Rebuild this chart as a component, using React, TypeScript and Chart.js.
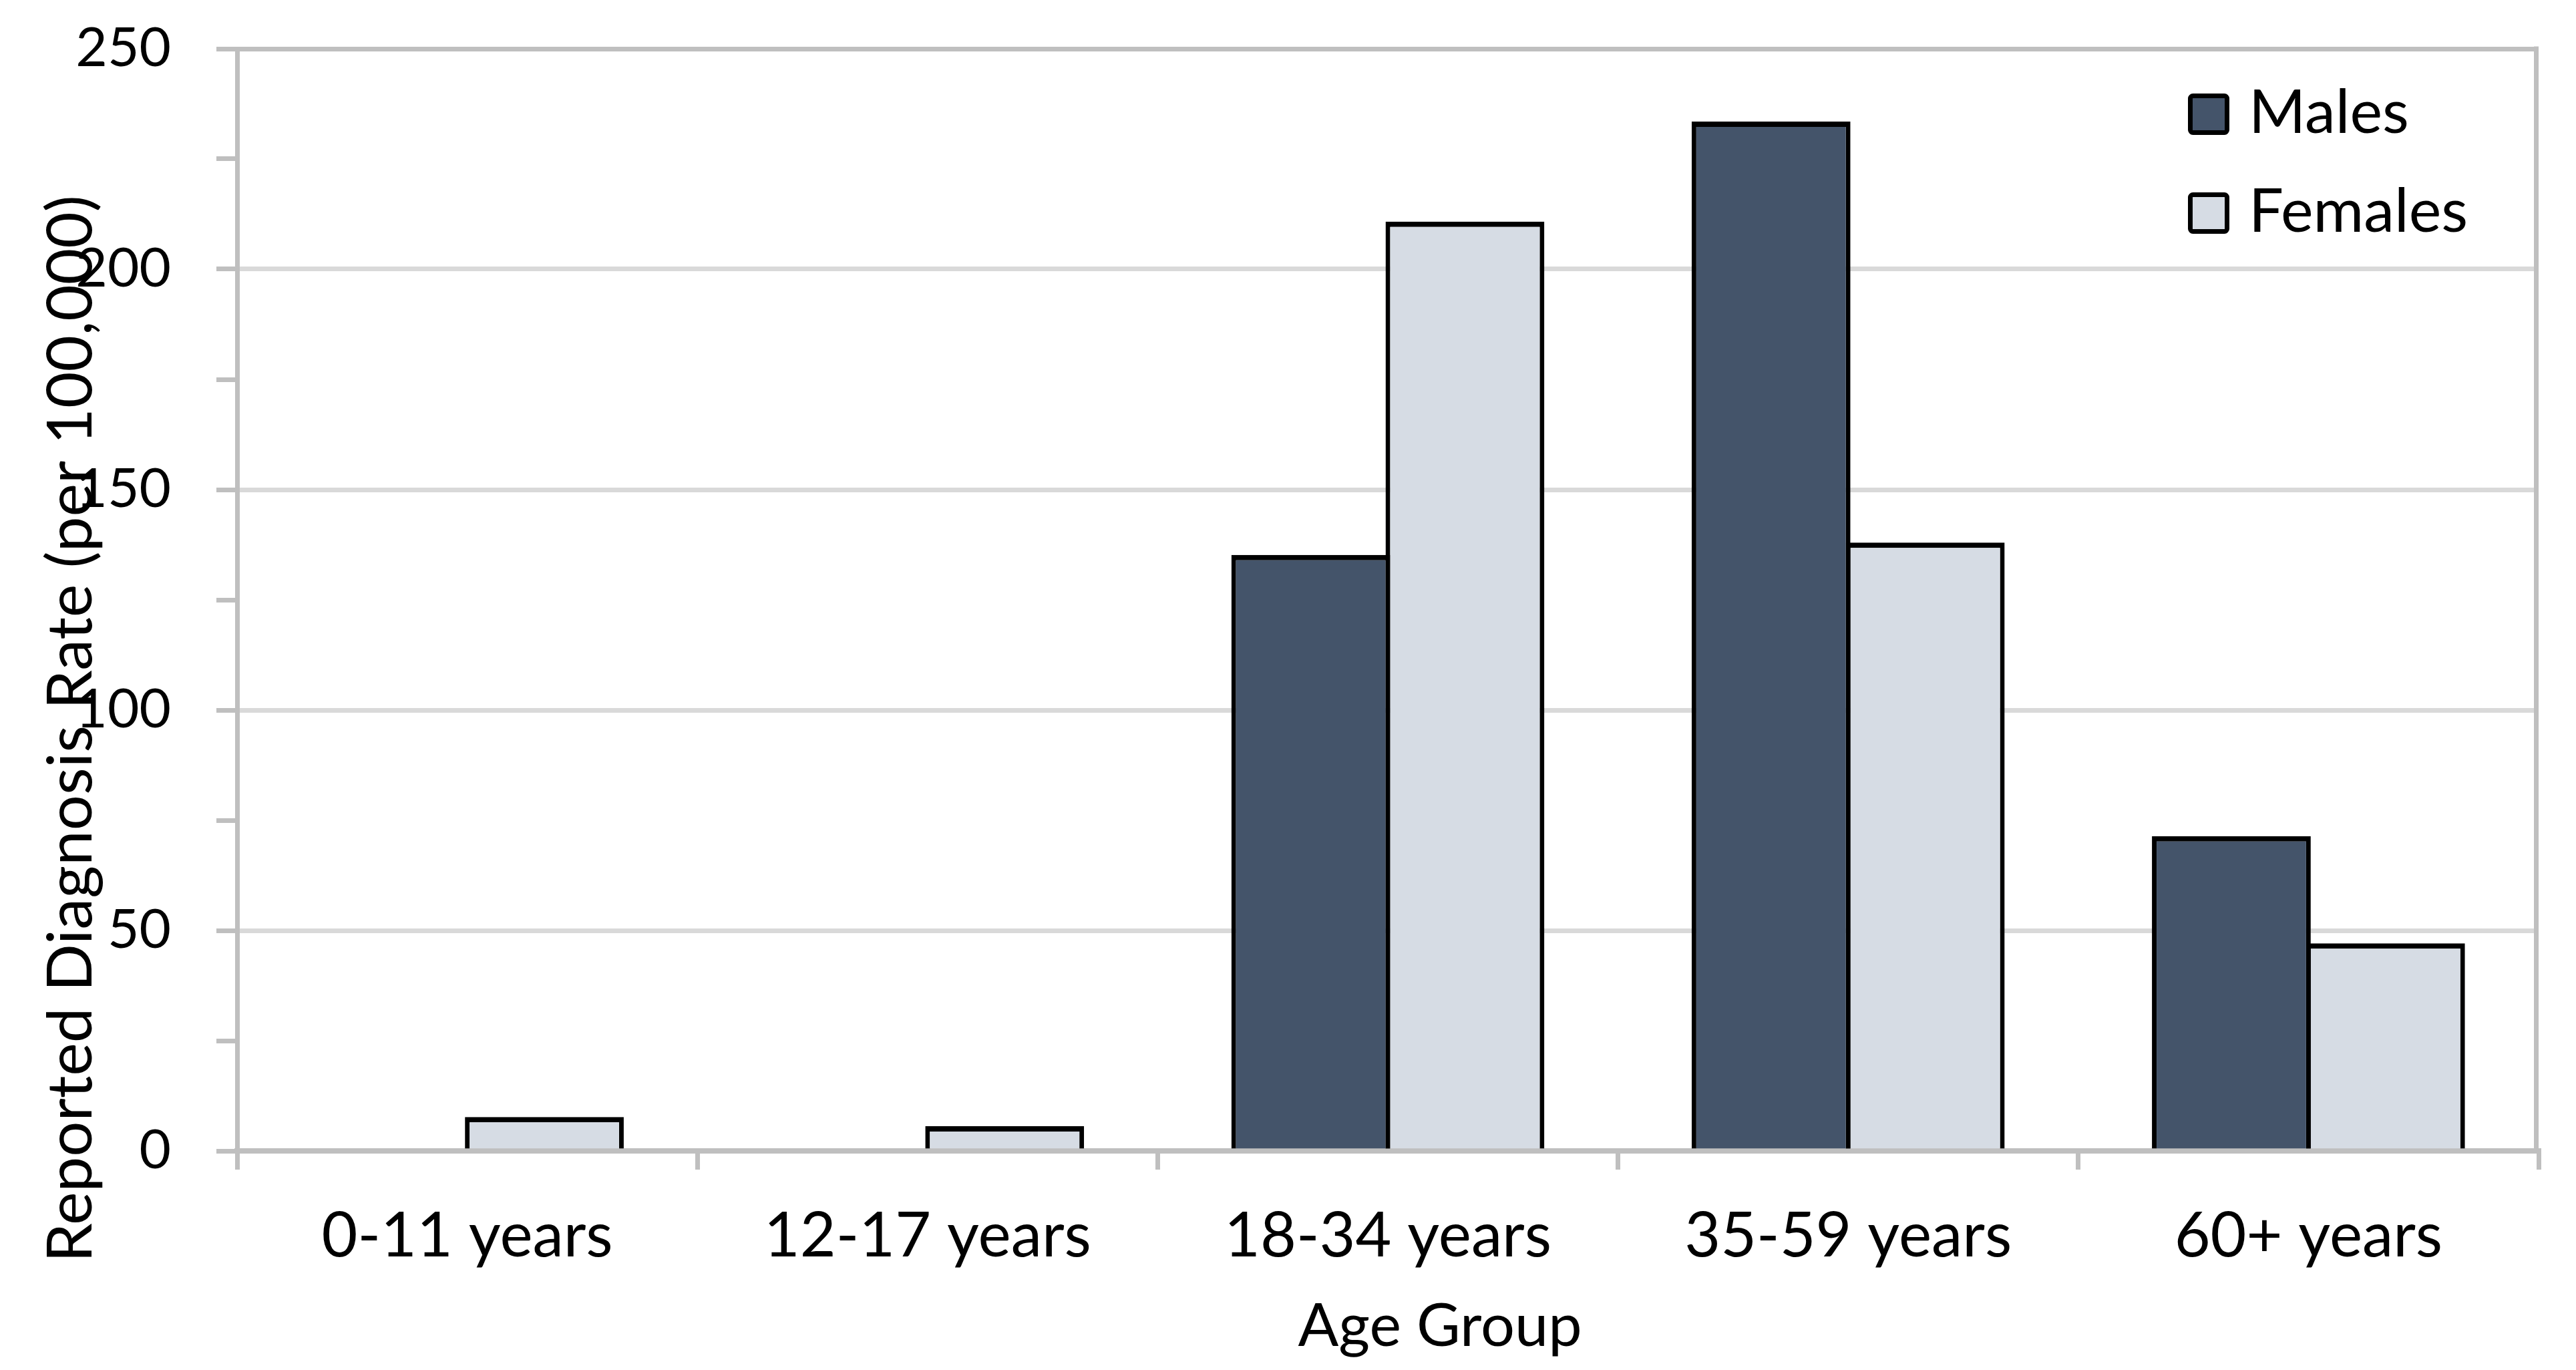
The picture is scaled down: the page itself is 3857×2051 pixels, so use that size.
import React, { useEffect, useRef } from 'react';
import { Chart, registerables } from 'chart.js';

Chart.register(...registerables);

const categories = ['0-11 years', '12-17 years', '18-34 years', '35-59 years', '60+ years'];
const seriesLabels = ['Males', 'Females'];
const malesValues = [0, 0, 135.2, 233.5, 71.4];
const femalesValues = [7.7, 5.6, 210.8, 138.0, 47.1];
const yTickValues = [0, 50, 100, 150, 200, 250];
const yTitle = 'Reported Diagnosis Rate (per 100,000)';
const xTitle = 'Age Group';

const W = 3857;
const H = 2051;
const FONT = 'Lato';

const overlayPlugin = {
  id: 'overlay',
  afterDraw(chart: any) {
    const { ctx, chartArea } = chart;
    ctx.save();
    // right border of plot area
    ctx.strokeStyle = '#bfbfbf';
    ctx.lineWidth = 7;
    ctx.beginPath();
    ctx.moveTo(chartArea.right - 3.5, chartArea.top - 3.5);
    ctx.lineTo(chartArea.right - 3.5, chartArea.bottom);
    ctx.stroke();

    // legend
    const boxLeft = chartArea.right - 525;
    const top0 = chartArea.top + 67;
    chart.data.datasets.forEach((ds: any, i: number) => {
      const y = top0 + i * 148;
      ctx.fillStyle = ds.backgroundColor;
      ctx.strokeStyle = '#000';
      ctx.lineWidth = 7;
      ctx.beginPath();
      if (ctx.roundRect) ctx.roundRect(boxLeft + 3.5, y + 3.5, 55, 55, 4);
      else ctx.rect(boxLeft + 3.5, y + 3.5, 55, 55);
      ctx.fill();
      ctx.stroke();
      ctx.fillStyle = '#000';
      ctx.font = `92px ${FONT}`;
      ctx.textAlign = 'left';
      ctx.textBaseline = 'alphabetic';
      ctx.fillText(ds.label, boxLeft + 91, y + 59);
    });

    // axis titles
    ctx.fillStyle = '#000';
    ctx.textAlign = 'center';
    ctx.textBaseline = 'alphabetic';
    ctx.font = `90px ${FONT}`;
    ctx.fillText(xTitle, 2156, 2015);
    ctx.font = `94px ${FONT}`;
    ctx.translate(137, 1091);
    ctx.rotate(-Math.PI / 2);
    ctx.fillText(yTitle, 0, 0);
    ctx.restore();
  },
};

export default function App() {
  const ref = useRef<HTMLCanvasElement | null>(null);

  useEffect(() => {
    if (!ref.current) return;
    Chart.defaults.font.family = FONT;
    const barBorder = { top: 8, left: 7, right: 7, bottom: 0 };
    const chart = new Chart(ref.current, {
      type: 'bar',
      data: {
        labels: categories,
        datasets: [
          {
            label: seriesLabels[0],
            data: malesValues,
            backgroundColor: '#44546a',
            borderColor: '#000000',
            borderWidth: barBorder,
            borderSkipped: 'start',
            categoryPercentage: 0.67,
            barPercentage: 1.03,
          },
          {
            label: seriesLabels[1],
            data: femalesValues,
            backgroundColor: '#d6dce4',
            borderColor: '#000000',
            borderWidth: barBorder,
            borderSkipped: 'start',
            categoryPercentage: 0.67,
            barPercentage: 1.03,
          },
        ],
      },
      options: {
        responsive: false,
        animation: false,
        devicePixelRatio: 1,
        layout: { padding: { top: 73, right: 56, left: 0, bottom: 0 } },
        plugins: {
          legend: { display: false },
          tooltip: { enabled: false },
          title: { display: false },
        },
        scales: {
          x: {
            type: 'category',
            z: 1,
            offset: true,
            grid: {
              offset: true,
              drawOnChartArea: false,
              drawTicks: true,
              tickLength: 28,
              tickColor: '#bfbfbf',
              lineWidth: 7,
              color: '#bfbfbf',
            },
            border: { display: true, color: '#bfbfbf', width: 8 },
            ticks: {
              color: '#000',
              font: { size: 93, family: FONT },
              padding: 44,
              maxRotation: 0,
              autoSkip: false,
            },
            afterFit: (s: any) => {
              s.height = H - 1723;
              s.paddingLeft = 0;
              s.paddingRight = 0;
            },
          },
          y: {
            type: 'linear',
            min: 0,
            max: 250,
            ticks: {
              stepSize: 25,
              autoSkip: false,
              maxTicksLimit: 30,
              color: '#000',
              font: { size: 82, family: FONT },
              padding: 68,
              callback: (v: any) => (yTickValues.includes(Number(v)) ? String(v) : ''),
            },
            grid: {
              lineWidth: 7,
              tickLength: 31,
              tickColor: '#bfbfbf',
              color: (c: any) => {
                const v = c.tick ? c.tick.value : NaN;
                if (v === 0 || v === 250) return '#bfbfbf';
                return yTickValues.includes(v) ? '#d9d9d9' : 'rgba(0,0,0,0)';
              },
            },
            border: { display: true, color: '#bfbfbf', width: 7 },
            afterFit: (s: any) => {
              s.width = 355;
              s.paddingTop = 0;
              s.paddingBottom = 0;
            },
          },
        },
      } as any,
      plugins: [overlayPlugin],
    });
    return () => chart.destroy();
  }, []);

  return (
    <div style={{ position: 'absolute', left: 0, top: 0, width: W, height: H, background: '#fff', overflow: 'hidden' }}>
      <canvas ref={ref} width={W} height={H} style={{ display: 'block', width: W, height: H }} />
    </div>
  );
}
